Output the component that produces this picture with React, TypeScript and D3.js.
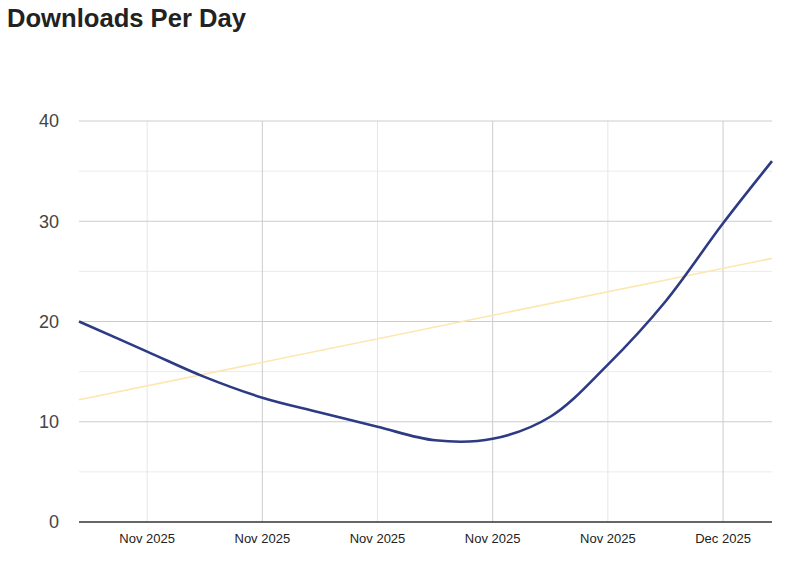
import React from "react";
import * as d3 from "d3";

const title = "Downloads Per Day";

const dates = [
  "2025-11-03T01:00", "2025-11-06T00:00", "2025-11-08T11:00", "2025-11-11T00:00",
  "2025-11-13T11:00", "2025-11-16T00:00", "2025-11-18T12:00", "2025-11-21T00:00",
  "2025-11-23T12:00", "2025-11-26T00:00", "2025-11-28T12:00", "2025-12-01T00:00",
  "2025-12-03T03:00",
];
const downloads = [
  20.0, 17.0, 14.5, 12.4,
  10.95, 9.5, 8.15, 8.3,
  10.5, 15.7, 22.0, 29.8,
  36.0,
];
const trendStart = 12.2;
const trendEnd = 26.3;

const xTickDates = ["2025-11-06", "2025-11-11", "2025-11-16", "2025-11-21", "2025-11-26", "2025-12-01"];
const xTickLabels = ["Nov 2025", "Nov 2025", "Nov 2025", "Nov 2025", "Nov 2025", "Dec 2025"];
const yTicks = [0, 10, 20, 30, 40];
const yMinor = [5, 15, 25, 35];

const W = 800, H = 561;
const left = 79, right = 772, top = 121, bottom = 522;

export default function App() {
  const parsed = dates.map((d) => new Date(d));
  const x = d3.scaleTime().domain([parsed[0], parsed[parsed.length - 1]]).range([left, right]);
  const y = d3.scaleLinear().domain([0, 40]).range([bottom, top]);
  const pts: [Date, number][] = parsed.map((d, i) => [d, downloads[i]]);
  const line = d3
    .line<[Date, number]>()
    .x((d) => x(d[0]))
    .y((d) => y(d[1]))
    .curve(d3.curveCatmullRom.alpha(0.5));
  const tickDates = xTickDates.map((d) => new Date(d + "T00:00"));
  return (
    <svg width={W} height={H} style={{ position: "absolute", left: 0, top: 0, background: "#fff" }}
      fontFamily="Arial, 'Liberation Sans', sans-serif">
      <text x={7} y={27} fontSize={25.6} fontWeight="bold" fill="#222">{title}</text>
      {yMinor.map((v) => (
        <line key={"m" + v} x1={left} x2={right} y1={y(v)} y2={y(v)} stroke="#ebebeb" strokeWidth={1} />
      ))}
      {tickDates.map((d, i) => (
        <line key={"v" + i} x1={x(d)} x2={x(d)} y1={top} y2={bottom}
          stroke={i % 2 === 1 ? "#cccccc" : "#e6e6e6"} strokeWidth={1} />
      ))}
      {yTicks.filter((v) => v !== 0).map((v) => (
        <line key={"g" + v} x1={left} x2={right} y1={y(v)} y2={y(v)} stroke="#cccccc" strokeWidth={1} />
      ))}
      {yTicks.map((v) => (
        <text key={"yl" + v} x={59} y={y(v)} dy="0.35em" textAnchor="end" fontSize={18} fill="#444">{v}</text>
      ))}
      {tickDates.map((d, i) => (
        <text key={"xl" + i} x={x(d)} y={543} textAnchor="middle" fontSize={13} fill="#222">{xTickLabels[i]}</text>
      ))}
      <line x1={x(parsed[0])} x2={x(parsed[parsed.length - 1])} y1={y(trendStart)} y2={y(trendEnd)}
        stroke="#fde7ae" strokeWidth={1.6} />
      <path d={line(pts) || ""} fill="none" stroke="#2d3a84" strokeWidth={2.6} />
      <line x1={left} x2={right} y1={bottom} y2={bottom} stroke="#333" strokeWidth={1.5} />
    </svg>
  );
}
